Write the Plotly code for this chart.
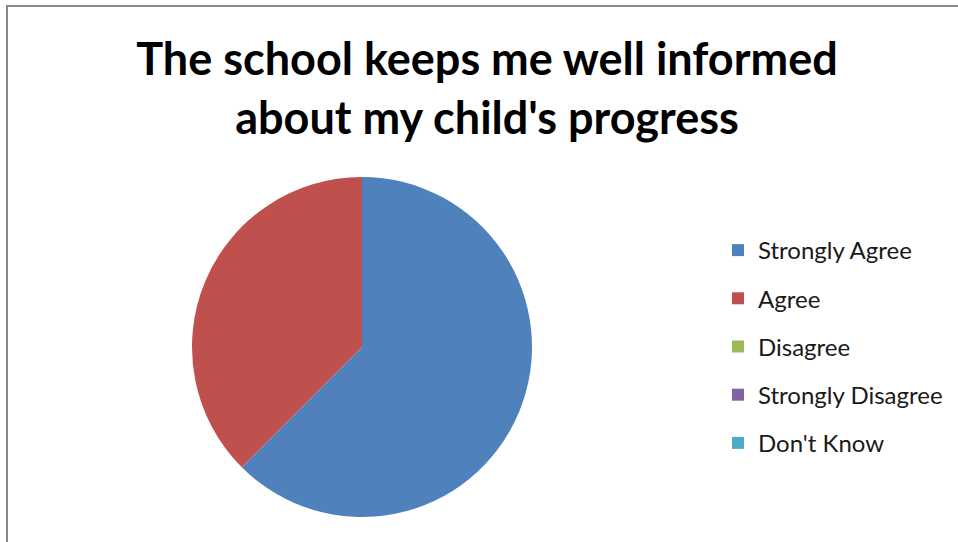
import plotly.graph_objects as go

# respuestas de la encuesta
categorias = ["Strongly Agree", "Agree", "Disagree", "Strongly Disagree", "Don't Know"]
valores = [5, 3, 0, 0, 0]
colores = ["#4F81BD", "#C0504D", "#9BBB59", "#8064A2", "#4BACC6"]

titulo = "The school keeps me well informed<br>about my child's progress"

W, H = 958, 542

fig = go.Figure()

fig.add_trace(go.Pie(
    labels=categorias,
    values=valores,
    marker=dict(colors=colores, line=dict(width=0)),
    sort=False,
    direction="clockwise",
    rotation=0,
    textinfo="none",
    hoverinfo="label+percent",
    showlegend=False,
    domain=dict(x=[(362 - 170) / W, (362 + 170) / W],
                y=[1 - 517 / H, 1 - 177 / H]),
))

# leyenda con cuadrados (un grupo por categoria para poder separar las filas)
for nombre, color in zip(categorias, colores):
    fig.add_trace(go.Scatter(
        x=[None], y=[None],
        mode="markers",
        marker=dict(symbol="square", size=13, color=color),
        name=nombre,
        legendgroup=nombre,
        showlegend=True,
        hoverinfo="skip",
    ))

fig.update_layout(
    width=W,
    height=H,
    margin=dict(l=0, r=0, t=0, b=0),
    paper_bgcolor="white",
    plot_bgcolor="white",
    title=dict(
        text=titulo,
        x=487 / W,
        xanchor="center",
        xref="paper",
        y=1 - 75 / H,
        yanchor="top",
        yref="container",
        font=dict(family="Lato", size=45, color="black", weight="bold"),
    ),
    xaxis=dict(visible=False),
    yaxis=dict(visible=False),
    legend=dict(
        x=718 / W,
        y=1 - 228 / H,
        xanchor="left",
        yanchor="top",
        tracegroupgap=14,
        itemsizing="constant",
        font=dict(family="Lato", size=24, color="#1a1a1a"),
        bgcolor="rgba(0,0,0,0)",
    ),
    shapes=[dict(
        type="rect", xref="paper", yref="paper",
        x0=7 / W, x1=1.05, y0=-0.05, y1=1 - 6 / H,
        line=dict(color="#888888", width=2),
        fillcolor="rgba(0,0,0,0)",
        layer="above",
    )],
)

# quitar el margen del body para que el grafico empiece en (0, 0)
fig.write_html(
    "out.html",
    config={"displayModeBar": False},
    post_script="document.body.style.margin='0px';",
)
